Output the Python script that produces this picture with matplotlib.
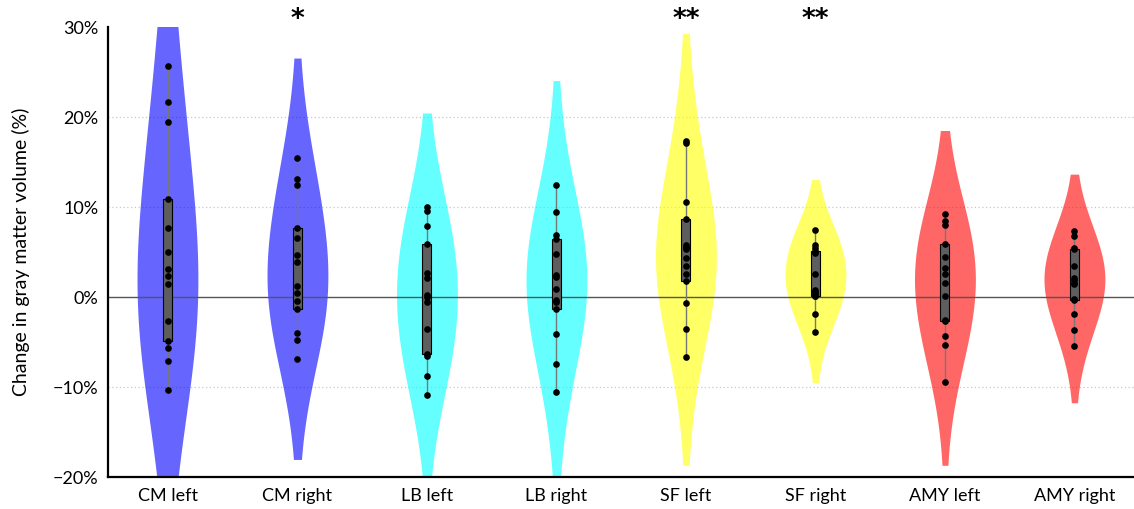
import numpy as np
import matplotlib
matplotlib.use("Agg")
import matplotlib.pyplot as plt
from matplotlib.ticker import FuncFormatter

plt.rcParams['font.family'] = ['Lato', 'DejaVu Sans']

# Regions of interest and per-subject change in gray matter volume (%)
regions = ["CM left", "CM right", "LB left", "LB right",
           "SF left", "SF right", "AMY left", "AMY right"]

cm_left = [25.7, 21.7, 19.4, 10.9, 7.7, 5.0, 3.1, 2.3, 1.4, -2.7, -4.9, -5.7, -7.1, -10.3]
cm_right = [15.4, 13.1, 12.4, 7.7, 6.6, 4.7, 3.9, 1.2, 0.5, -0.4, -1.3, -4.0, -4.8, -6.9]
lb_left = [10.0, 9.6, 7.9, 5.9, 2.7, 2.1, 0.2, 0.0, -0.5, -3.5, -6.3, -6.6, -8.8, -10.9]
lb_right = [12.5, 9.5, 6.9, 6.4, 4.8, 2.4, 2.2, 0.9, -0.3, -0.6, -1.3, -4.1, -7.4, -10.6]
sf_left = [17.3, 17.1, 10.6, 8.7, 5.8, 5.6, 5.3, 4.3, 3.5, 2.6, 1.8, -0.7, -3.6, -6.7]
sf_right = [7.4, 5.8, 5.5, 5.1, 5.0, 4.9, 2.6, 0.8, 0.6, 0.3, 0.15, 0.1, -1.9, -3.9]
amy_left = [9.2, 8.4, 8.0, 5.9, 4.4, 3.2, 2.6, 1.6, 0.1, -2.5, -2.7, -4.3, -5.3, -9.4]
amy_right = [7.3, 6.8, 5.5, 5.3, 3.4, 2.1, 1.9, 1.6, 1.4, -0.2, -0.3, -1.9, -3.7, -5.4]

series = [cm_left, cm_right, lb_left, lb_right, sf_left, sf_right, amy_left, amy_right]
colors = ["#0000ff", "#0000ff", "#00ffff", "#00ffff",
          "#ffff00", "#ffff00", "#ff0000", "#ff0000"]
stars = ["", "*", "", "", "**", "**", "", ""]

yticks = [-20, -10, 0, 10, 20, 30]


def kde_curve(vals, npts=400):
    """Gaussian KDE (bandwidth = range/3) over data range padded by half the range,
    normalised to a peak of 1."""
    v = np.asarray(vals, float)
    rng = v.max() - v.min()
    bw = rng / 3.0
    ys = np.linspace(v.min() - rng / 2, v.max() + rng / 2, npts)
    dens = np.exp(-0.5 * ((ys[:, None] - v[None, :]) / bw) ** 2).sum(axis=1)
    return ys, dens / dens.max()


def hinges(vals):
    v = np.sort(np.asarray(vals, float))
    n = len(v)
    h = n // 2
    return np.median(v[:h]), np.median(v[n - h:])


fig = plt.figure(figsize=(11.34, 5.09), dpi=100)
ax = fig.add_axes([108 / 1134, 32 / 509, 1 - 108 / 1134, 450 / 509])

half_width = 0.235
edge = 0.01
box_w = 0.07

for g in [-10, 10, 20]:
    ax.axhline(g, color="#c8c8c8", lw=0.9, ls=(0, (1, 2)), zorder=0)

for i, (vals, col) in enumerate(zip(series, colors)):
    ys, d = kde_curve(vals)
    w = edge + d * (half_width - edge)
    ax.fill_betweenx(ys, i - w, i + w, color=col, alpha=0.6, lw=0, zorder=1)

ax.axhline(0, color="#555555", lw=1.0, zorder=2)

for i, vals in enumerate(series):
    v = np.asarray(vals)
    ax.plot([i, i], [v.min(), v.max()], color="#777777", lw=1.0, zorder=3)
    q1, q3 = hinges(v)
    ax.add_patch(plt.Rectangle((i - box_w / 2, q1), box_w, q3 - q1,
                               facecolor="#5e5e5e", edgecolor="black",
                               lw=0.8, zorder=4))
    ax.plot(np.full(len(v), i), v, 'o', color="black", ms=4.8,
            mec="black", mew=0, zorder=5)

for i, s in enumerate(stars):
    if s:
        ax.text(i, 1.0 + 7 / 450, s, transform=ax.get_xaxis_transform(),
                ha="center", va="center", fontsize=19, fontweight="bold",
                family=["DejaVu Sans"])

ax.set_xlim(-0.463, 7.46)
ax.set_ylim(-20, 30)
ax.set_xticks(range(len(regions)))
ax.set_xticklabels(regions, fontsize=13)
ax.set_yticks(yticks)
ax.yaxis.set_major_formatter(FuncFormatter(lambda y, _: f"{int(y)}%".replace("-", "\u2212")))
ax.tick_params(axis="y", labelsize=13, length=0, pad=7)
ax.tick_params(axis="x", length=0, pad=8)
ax.set_ylabel("Change in gray matter volume (%)", fontsize=14, labelpad=16)

for side in ["top", "right"]:
    ax.spines[side].set_visible(False)
for side in ["left", "bottom"]:
    ax.spines[side].set_linewidth(1.6)
    ax.spines[side].set_color("black")

fig.savefig("out.png", dpi=100)
